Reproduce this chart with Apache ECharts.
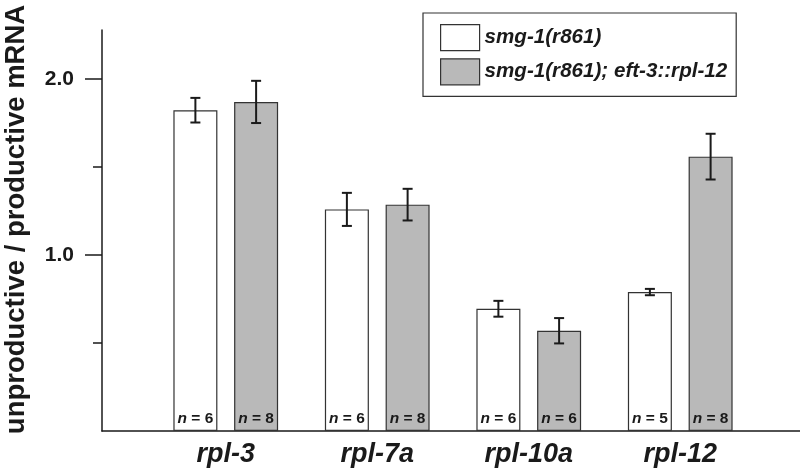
<!DOCTYPE html>
<html><head><meta charset="utf-8">
<script src="https://cdn.jsdelivr.net/npm/echarts@6/dist/echarts.min.js"></script>
<style>html,body{margin:0;padding:0;background:#fff}#c{width:800px;height:475px}</style>
</head><body><div id="c"></div>
<script>
const categories = ['rpl-3', 'rpl-7a', 'rpl-10a', 'rpl-12'];
const seriesNames = ['smg-1(r861)', 'smg-1(r861); eft-3::rpl-12'];
const controlValues = [1.824, 1.26, 0.695, 0.79];
const controlErrors = [0.07, 0.094, 0.045, 0.018];
const controlN = [6, 6, 6, 5];
const rescueValues = [1.871, 1.287, 0.57, 1.56];
const rescueErrors = [0.12, 0.09, 0.072, 0.13];
const rescueN = [8, 8, 6, 8];
const yMajorTicks = [1, 2];
const yMinorTicks = [0.5, 1.5];

const FONT = "'Liberation Sans', Arial, Helvetica, sans-serif";
const INK = '#1a1a1a';
const BAR_W = 44;
const BAR_GAP = 0.38;
const OFFSET = (BAR_W + BAR_W * BAR_GAP) / 2;
const YMAX = 2.28;

function errData(vals, errs) { return vals.map((v, i) => [i, v, errs[i]]); }
function errSeries(vals, errs, dx) {
  return {
    type: 'custom', xAxisIndex: 1, yAxisIndex: 1, z: 5, silent: true,
    data: errData(vals, errs),
    renderItem: function (params, api) {
      const i = api.value(0), v = api.value(1), e = api.value(2);
      const top = api.coord([i, v + e]);
      const bot = api.coord([i, v - e]);
      const x = top[0] + dx;
      const st = { stroke: INK, lineWidth: 2 };
      return { type: 'group', children: [
        { type: 'line', shape: { x1: x, y1: top[1], x2: x, y2: bot[1] }, style: st },
        { type: 'line', shape: { x1: x - 5, y1: top[1], x2: x + 5, y2: top[1] }, style: st },
        { type: 'line', shape: { x1: x - 5, y1: bot[1], x2: x + 5, y2: bot[1] }, style: st }
      ]};
    }
  };
}
function nLabel(nArr) {
  return {
    show: true, position: 'insideBottom', distance: 4,
    formatter: p => '{i|n} = ' + nArr[p.dataIndex],
    fontFamily: FONT, fontWeight: 'bold', fontSize: 15.5, color: INK,
    rich: { i: { fontStyle: 'italic', fontWeight: 'bold', fontFamily: FONT, fontSize: 15.5, color: INK } }
  };
}

const chart = echarts.init(document.getElementById('c'), null, { renderer: 'canvas' });
chart.setOption({
  backgroundColor: '#fff',
  animation: false,
  grid: [
    { left: 102, right: 0, top: 30, height: 401, outerBoundsMode: 'none', containLabel: false },
    { left: 150, width: 606, top: 30, height: 401, outerBoundsMode: 'none', containLabel: false }
  ],
  legend: {
    data: seriesNames, orient: 'vertical', left: 423, top: 13, icon: 'rect',
    itemWidth: 39, itemHeight: 26, itemGap: 7,
    padding: [11, 9, 11, 17],
    borderColor: '#333', borderWidth: 1.2, borderRadius: 0,
    itemStyle: { borderColor: '#333', borderWidth: 1.2 },
    textStyle: { fontFamily: FONT, fontWeight: 'bold', fontStyle: 'italic', fontSize: 20.6, color: INK }
  },
  xAxis: [
    { type: 'value', gridIndex: 0, min: 0, max: 1,
      axisLine: { show: true, lineStyle: { color: INK, width: 1.5 } },
      axisTick: { show: false }, axisLabel: { show: false }, splitLine: { show: false } },
    { type: 'category', gridIndex: 1, data: categories,
      axisLine: { show: false }, axisTick: { show: false }, splitLine: { show: false },
      axisLabel: { margin: 10, fontFamily: FONT, fontWeight: 'bold', fontStyle: 'italic', fontSize: 27, color: INK } }
  ],
  yAxis: [
    { type: 'value', gridIndex: 0, min: 0, max: YMAX,
      name: 'unproductive / productive mRNA', nameLocation: 'middle', nameGap: 72,
      nameTextStyle: { fontFamily: FONT, fontWeight: 'bold', fontSize: 27.5, color: INK, padding: [0, 0, 0, 22] },
      axisLine: { show: true, lineStyle: { color: INK, width: 1.5 } },
      axisTick: { show: true, length: 17, customValues: yMajorTicks, lineStyle: { color: INK, width: 1.5 } },
      axisLabel: { customValues: yMajorTicks, margin: 28, formatter: v => v.toFixed(1),
        fontFamily: FONT, fontWeight: 'bold', fontSize: 21, color: INK },
      splitLine: { show: false } },
    { type: 'value', gridIndex: 1, min: 0, max: YMAX, show: false, splitLine: { show: false } },
    { type: 'value', gridIndex: 0, min: 0, max: YMAX, position: 'left', offset: 0,
      axisLine: { show: false },
      axisTick: { show: true, length: 9, customValues: yMinorTicks, lineStyle: { color: INK, width: 1.5 } },
      axisLabel: { show: false }, splitLine: { show: false } }
  ],
  series: [
    { name: seriesNames[0], type: 'bar', xAxisIndex: 1, yAxisIndex: 1, data: controlValues,
      barWidth: BAR_W, barGap: (BAR_GAP * 100) + '%',
      itemStyle: { color: '#ffffff', borderColor: '#333', borderWidth: 1.2 },
      label: nLabel(controlN) },
    { name: seriesNames[1], type: 'bar', xAxisIndex: 1, yAxisIndex: 1, data: rescueValues,
      barWidth: BAR_W, barGap: (BAR_GAP * 100) + '%',
      itemStyle: { color: '#b9b9b9', borderColor: '#333', borderWidth: 1.2 },
      label: nLabel(rescueN) },
    errSeries(controlValues, controlErrors, -OFFSET),
    errSeries(rescueValues, rescueErrors, OFFSET)
  ]
});
</script></body></html>
